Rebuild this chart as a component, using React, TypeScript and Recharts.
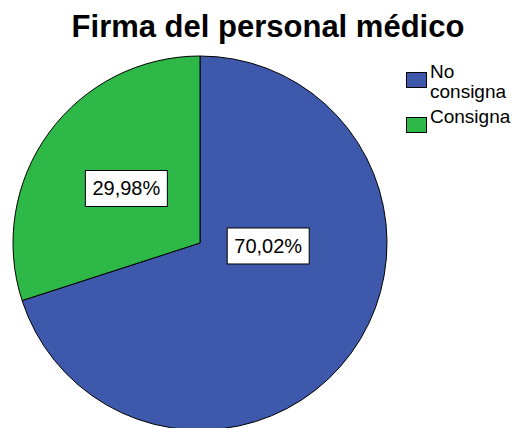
import React from 'react';
import { PieChart, Pie, Cell, Legend } from 'recharts';

const categories = ['No consigna', 'Consigna'];
const percentages = [70.02, 29.98];
const legendLines = [['No', 'consigna'], ['Consigna']];
const colors = ['#3E58AC', '#2EB848'];

const data = categories.map((name, i) => ({ name, value: percentages[i] }));

// where SPSS put each label: fraction of radius and angle (recharts degrees)
const labelPlacement = [
  { r: 0.365, angle: -2.5 },
  { r: 0.49, angle: 143.5 },
];

const RADIAN = Math.PI / 180;
const FONT = '"Liberation Sans", Arial, sans-serif';

const renderLabel = (props: any) => {
  const { cx, cy, outerRadius, index, value } = props;
  const p = labelPlacement[index];
  const x = cx + outerRadius * p.r * Math.cos(-p.angle * RADIAN);
  const y = cy + outerRadius * p.r * Math.sin(-p.angle * RADIAN);
  const text = value.toFixed(2).replace('.', ',') + '%';
  return (
    <g>
      <rect x={x - 41} y={y - 18} width={82} height={36} fill="#ffffff" stroke="#000000" strokeWidth={1} />
      <text x={x} y={y + 7} textAnchor="middle" fontFamily={FONT} fontSize={20} fill="#000000">
        {text}
      </text>
    </g>
  );
};

const renderLegend = () => {
  let y = 0;
  return (
    <svg width={120} height={80} style={{ overflow: 'visible' }}>
      {legendLines.map((lines, i) => {
        const top = y;
        y += lines.length * 20 + 5;
        return (
          <g key={i}>
            <rect x={0.5} y={top + 8.5} width={20} height={15} fill={colors[i]} stroke="#000000" strokeWidth={1} />
            {lines.map((l, j) => (
              <text key={j} x={24} y={top + 14 + j * 20} fontFamily={FONT} fontSize={19} fill="#000000">
                {l}
              </text>
            ))}
          </g>
        );
      })}
    </svg>
  );
};

export default function App() {
  return (
    <div style={{ position: 'absolute', left: 0, top: 0, width: 523, height: 428, background: '#ffffff', overflow: 'hidden' }}>
      <div
        style={{
          position: 'absolute',
          left: 0,
          top: 9,
          width: 536,
          textAlign: 'center',
          fontFamily: FONT,
          fontWeight: 'bold',
          fontSize: 31,
          lineHeight: '36px',
          color: '#000000',
        }}
      >
        Firma del personal médico
      </div>
      <PieChart
        width={523}
        height={428}
        margin={{ top: 0, right: 0, bottom: 0, left: 0 }}
        style={{ position: 'absolute', left: 0, top: 0 }}
      >
        <Pie
          data={data}
          dataKey="value"
          nameKey="name"
          cx={200}
          cy={243}
          outerRadius={187}
          startAngle={90}
          endAngle={-270}
          stroke="#000000"
          strokeWidth={1}
          label={renderLabel}
          labelLine={false}
          isAnimationActive={false}
        >
          {data.map((d, i) => (
            <Cell key={d.name} fill={colors[i]} />
          ))}
        </Pie>
        <Legend
          content={renderLegend}
          layout="vertical"
          wrapperStyle={{ position: 'absolute', left: 406, top: 64, width: 120 }}
        />
      </PieChart>
    </div>
  );
}
